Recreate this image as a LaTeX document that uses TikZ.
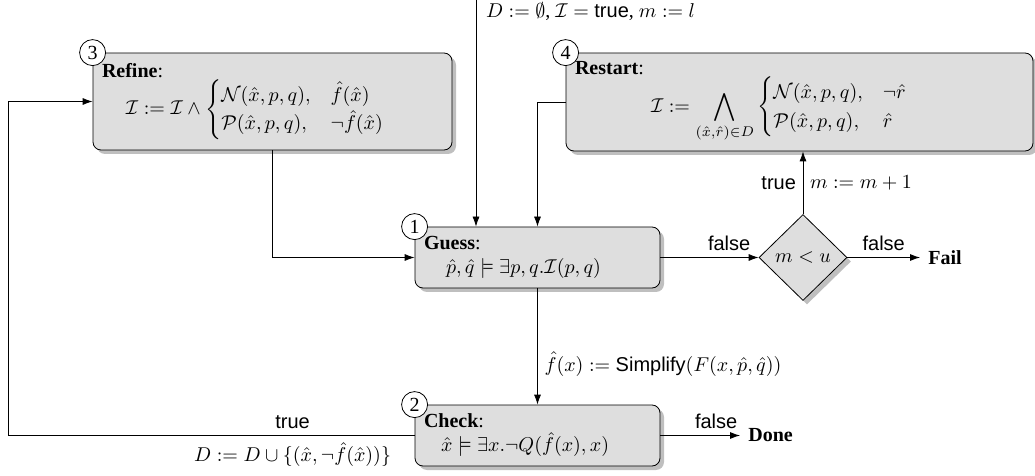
\documentclass[tikz,border=0pt]{standalone}
\usepackage{amsmath,amssymb}
\usepackage{fontspec}
\setmainfont{Liberation Serif}
\setsansfont{Liberation Sans}
\usetikzlibrary{arrows.meta, positioning, shapes.geometric, shadows}

\begin{document}
\begin{tikzpicture}[
  box/.style={draw, rounded corners=4pt, fill=black!13, align=left,
              inner xsep=4.5pt, inner ysep=3pt,
              drop shadow={shadow xshift=2pt, shadow yshift=-2pt}},
  num/.style={draw, circle, fill=white, minimum size=13pt, inner sep=0pt},
  test/.style={draw, diamond, fill=black!13, minimum width=44pt,
               minimum height=43pt, inner sep=0pt,
               drop shadow={shadow xshift=2pt, shadow yshift=-2pt}},
  outcome/.style={anchor=west, font=\bfseries, inner xsep=4pt},
  arr/.style={-{Latex[length=5pt,width=3.5pt]}},
  lbl/.style={font=\sffamily}
]
\useasboundingbox (0pt,0pt) rectangle (517.5pt,-238pt);

%% ---------- steps ----------
\node[box, text width=170.5pt, minimum height=48.5pt] (refine) at (136.25pt,-50.75pt)
  {\textbf{Refine}:\\ \hspace*{12pt}$\mathcal{I} := \mathcal{I} \wedge
   \begin{cases} \mathcal{N}(\hat{x},p,q), & \hat{f}(\hat{x})\\
                 \mathcal{P}(\hat{x},p,q), & \neg\hat{f}(\hat{x})\end{cases}$};
\node[box, text width=224.5pt, minimum height=49pt] (restart) at (399.75pt,-51pt)
  {\textbf{Restart}:\\ \hspace*{38pt}$\displaystyle \mathcal{I} :=
   \bigwedge_{(\hat{x},\hat{r})\in D}
   \begin{cases} \mathcal{N}(\hat{x},p,q), & \neg\hat{r}\\
                 \mathcal{P}(\hat{x},p,q), & \hat{r}\end{cases}$};
\node[box, text width=113.5pt, minimum height=30.5pt] (guess) at (268.75pt,-128.75pt)
  {\textbf{Guess}:\\ \hspace*{11pt}$\hat{p},\hat{q} \models \exists p,q.\mathcal{I}(p,q)$};
\node[box, text width=113.5pt, minimum height=30.5pt] (check) at (268.75pt,-217.75pt)
  {\textbf{Check}:\\ \hspace*{8.5pt}$\hat{x} \models \exists x.\neg Q(\hat{f}(x),x)$};

\node[num] (n1) at (guess.north west)   {1};
\node[num] (n2) at (check.north west)   {2};
\node[num] (n3) at (refine.north west)  {3};
\node[num] (n4) at (restart.north west) {4};

\node[test] (bound) at (401.5pt,-128.75pt) {$m < u$};
\node[outcome] (fail) at (460pt,-128.75pt) {Fail};
\node[outcome] (done) at (370pt,-217.75pt) {Done};

%% ---------- connectors ----------
\coordinate (init) at (238pt,0pt);
\draw[arr] (init) -- node[pos=0.053, right, xshift=1.5pt]
  {$D := \emptyset$, $\mathcal{I} = \textsf{true}$, $m := l$} (init |- guess.north);
\draw[arr] (refine.south) |- (guess.west);
\draw[arr] (restart.west) -| (guess.north);
\draw[arr] (guess.east) -- node[lbl, above, pos=0.7] {false} (bound.west);
\draw[arr] (bound.east) -- node[lbl, above] {false} (fail.west);
\draw[arr] (bound.north) -- node[lbl, left] {true} node[right] {$m := m+1$}
  (bound.north |- restart.south);
\draw[arr] (guess.south) -- node[right, pos=0.65]
  {$\hat{f}(x) := \textsf{Simplify}(F(x,\hat{p},\hat{q}))$} (check.north);
\draw[arr] (check.east) -- node[lbl, above, pos=0.7] {false} (done.west);

\coordinate (back) at (4pt,-217.75pt);
\draw[arr] (check.west) -- node[lbl, above, pos=0.3] {true}
  node[below, pos=0.3] {$D := D \cup \{(\hat{x},\neg\hat{f}(\hat{x}))\}$}
  (back) |- (refine.west);
\end{tikzpicture}
\end{document}
